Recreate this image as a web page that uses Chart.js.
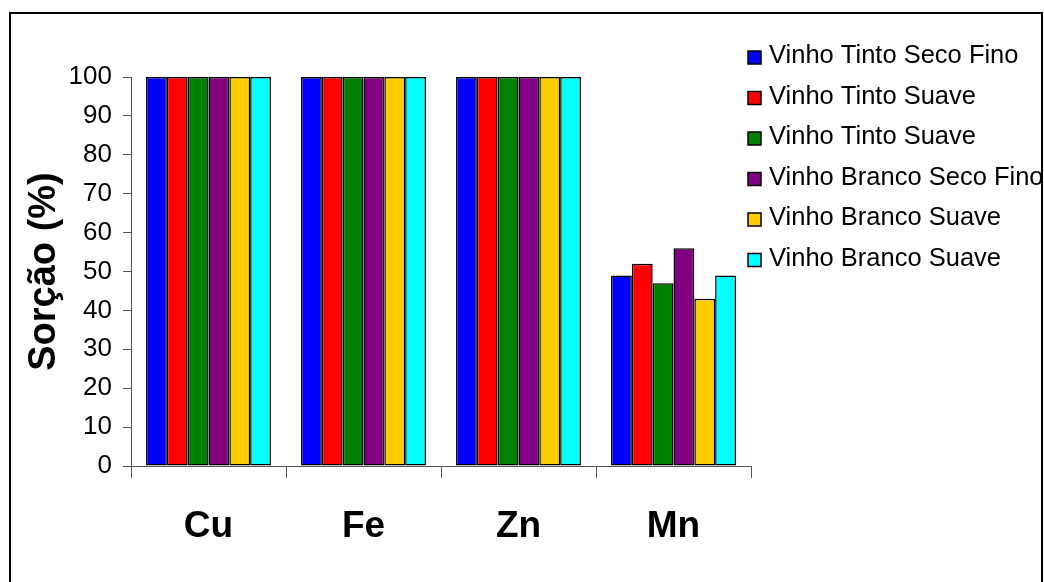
<!DOCTYPE html>
<html>
<head>
<meta charset="utf-8">
<script src="https://cdn.jsdelivr.net/npm/chart.js@4.4.1/dist/chart.umd.min.js"></script>
<style>
  body { margin: 0; background: #fff; }
  canvas { display: block; }
</style>
</head>
<body>
<canvas id="sorcao" width="1044" height="582"></canvas>
<script>
    "use strict";

    // Dados
    var metais = ["Cu", "Fe", "Zn", "Mn"];
    var vinhos = ["Vinho Tinto Seco Fino", "Vinho Tinto Suave", "Vinho Tinto Suave",
                  "Vinho Branco Seco Fino", "Vinho Branco Suave", "Vinho Branco Suave"];
    var cores = ["#0000FF", "#FF0000", "#008000", "#800080", "#FFCC00", "#00FFFF"];
    var tintoSecoFino = [100, 100, 100, 49];
    var tintoSuave1 = [100, 100, 100, 52];
    var tintoSuave2 = [100, 100, 100, 47];
    var brancoSecoFino = [100, 100, 100, 56];
    var brancoSuave1 = [100, 100, 100, 43];
    var brancoSuave2 = [100, 100, 100, 49];
    var valores = [tintoSecoFino, tintoSuave1, tintoSuave2, brancoSecoFino, brancoSuave1, brancoSuave2];
    var yTicks = [0, 10, 20, 30, 40, 50, 60, 70, 80, 90, 100];

    var fonte = "'Liberation Sans', Arial, sans-serif";
    Chart.defaults.color = "#000000";
    Chart.defaults.font.family = fonte;

    var datasets = valores.map(function (v, i) {
        return {
            label: vinhos[i],
            data: v,
            backgroundColor: cores[i],
            borderColor: "#000000",
            borderWidth: 1.5,
            borderSkipped: false
        };
    });

    // Legenda desenhada à mão + moldura
    var extras = {
        id: "extras",
        afterDraw: function (chart) {
            var ctx = chart.ctx;
            ctx.save();
            ctx.beginPath();
            ctx.rect(0, 0, 1041, 582);
            ctx.clip();
            ctx.font = "25.5px " + fonte;
            ctx.textBaseline = "middle";
            chart.data.datasets.forEach(function (ds, i) {
                var y = 57 + i * 40.5;
                ctx.fillStyle = ds.backgroundColor;
                ctx.fillRect(748, y - 6, 13, 13);
                ctx.strokeStyle = "#000";
                ctx.lineWidth = 1.5;
                ctx.strokeRect(748, y - 6, 13, 13);
                ctx.fillStyle = "#000";
                ctx.fillText(ds.label, 769, y - 1);
            });
            ctx.restore();
            ctx.save();
            ctx.lineWidth = 2;
            ctx.strokeStyle = "#000";
            ctx.strokeRect(10, 13, 1032, 600);
            ctx.restore();
        }
    };

    var ctx1 = document.getElementById("sorcao").getContext("2d");
    var grafico = new Chart(ctx1, {
        type: "bar",
        data: {
            labels: metais,
            datasets: datasets
        },
        options: {
            responsive: false,
            animation: false,
            layout: { padding: { left: 0, top: 77, right: 293, bottom: 0 } },
            plugins: {
                legend: { display: false },
                tooltip: { enabled: false }
            },
            datasets: {
                bar: { categoryPercentage: 0.806, barPercentage: 1 }
            },
            scales: {
                x: {
                    afterFit: function (scale) { scale.height = 116; },
                    grid: {
                        offset: true,
                        drawOnChartArea: false,
                        drawTicks: true,
                        tickLength: 12,
                        color: "#555555"
                    },
                    border: { color: "#555555" },
                    ticks: {
                        padding: 27,
                        font: { size: 37, weight: "bold" },
                        color: "#000"
                    }
                },
                y: {
                    min: 0,
                    max: 100,
                    afterFit: function (scale) { scale.width = 131; },
                    afterBuildTicks: function (scale) {
                        scale.ticks = yTicks.map(function (v) { return { value: v }; });
                    },
                    grid: {
                        drawOnChartArea: false,
                        drawTicks: true,
                        tickLength: 8,
                        color: "#555555"
                    },
                    border: { color: "#555555" },
                    ticks: {
                        padding: 11,
                        font: { size: 26 },
                        color: "#000"
                    },
                    title: {
                        display: true,
                        text: "Sorção (%)",
                        font: { size: 38, weight: "bold" },
                        padding: { top: 22, bottom: 0 },
                        color: "#000"
                    }
                }
            }
        },
        plugins: [extras]
    });
</script>
</body>
</html>
